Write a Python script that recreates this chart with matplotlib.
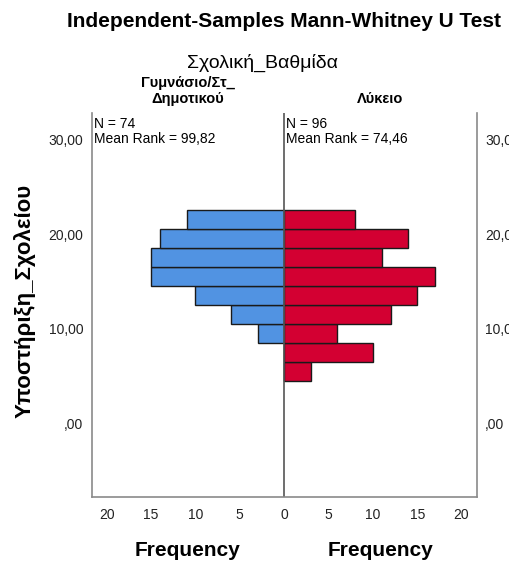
import numpy as np
import matplotlib
matplotlib.use("Agg")
from matplotlib import pyplot as plt

plt.rcParams['font.family'] = ['Liberation Sans', 'DejaVu Sans']

# bins of Υποστήριξη_Σχολείου (bin width 2), from bottom to top
bin_edges = [4.5, 6.5, 8.5, 10.5, 12.5, 14.5, 16.5, 18.5, 20.5, 22.5]
gym_counts = [0, 0, 3, 6, 10, 15, 15, 14, 11]     # Γυμνάσιο/Στ_Δημοτικού, N = 74
lyk_counts = [3, 10, 6, 12, 15, 17, 11, 14, 8]    # Λύκειο, N = 96

group_names = ["Γυμνάσιο/Στ_\nΔημοτικού", "Λύκειο"]
group_stats = ["N = 74\nMean Rank = 99,82", "N = 96\nMean Rank = 74,46"]
y_ticks = [0, 10, 20, 30]
y_ticklabels = [",00", "10,00", "20,00", "30,00"]
x_ticks = [-20, -15, -10, -5, 0, 5, 10, 15, 20]

BLUE = "#5193E2"
RED = "#D30032"
GRAY = "#8a8a8a"

fig = plt.figure(figsize=(5.09, 5.62), dpi=100)
ax = fig.add_axes([0.180, 0.1162, 0.7564, 0.683])

edges = np.array(bin_edges)
heights = np.diff(edges)
centers = edges[:-1] + heights / 2

# back-to-back histogram: left group drawn as negative widths
ax.barh(centers, -np.array(gym_counts), height=heights, color=BLUE,
        edgecolor="#1a1a1a", linewidth=1)
ax.barh(centers, lyk_counts, height=heights, color=RED,
        edgecolor="#1a1a1a", linewidth=1)
ax.axvline(0, color="#555555", linewidth=1.2)

ax.set_xlim(-21.7, 21.7)
ax.set_ylim(-7.7, 32.8)

ax.spines['top'].set_visible(False)
for s in ['left', 'right', 'bottom']:
    ax.spines[s].set_color(GRAY)
    ax.spines[s].set_linewidth(1.2)

ax.set_xticks(x_ticks)
ax.set_xticklabels([str(abs(t)) for t in x_ticks])
ax.set_yticks(y_ticks)
ax.set_yticklabels(y_ticklabels)
ax.tick_params(axis='both', length=0, labelsize=10, colors="#222222")
ax.tick_params(axis='x', pad=8)
ax.tick_params(axis='y', pad=6, labelright=True)

ax.set_ylabel("Υποστήριξη_Σχολείου", fontsize=16, fontweight='bold')
ax.yaxis.set_label_coords(-0.145, 0.51)

# headers
fig.text(0.5585, 0.961, "Independent-Samples Mann-Whitney U Test",
         ha='center', va='center', fontsize=15, fontweight='bold')
fig.text(0.515, 0.888, "Σχολική_Βαθμίδα", ha='center', va='center', fontsize=14)
ax.text(0.25, 1.018, group_names[0], transform=ax.transAxes, ha='center',
        va='bottom', fontsize=10.5, fontweight='bold', linespacing=1.2)
ax.text(0.75, 1.018, group_names[1], transform=ax.transAxes, ha='center',
        va='bottom', fontsize=10.5, fontweight='bold')
for i, txt in enumerate(group_stats):
    ax.text(0.006 + 0.5 * i, 0.988, txt, transform=ax.transAxes, ha='left',
            va='top', fontsize=10, linespacing=1.05)

for xc in [0.25, 0.75]:
    ax.text(xc, -0.14, "Frequency", transform=ax.transAxes, ha='center',
            va='center', fontsize=15, fontweight='bold')

fig.savefig("out.png", dpi=100)
